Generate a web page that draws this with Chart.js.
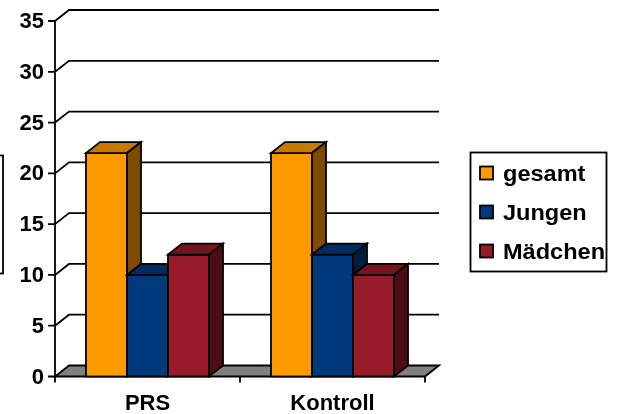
<!DOCTYPE html>
<html>
<head>
<meta charset="utf-8">
<script src="https://cdn.jsdelivr.net/npm/chart.js@4/dist/chart.umd.min.js"></script>
<style>
  html, body { margin: 0; padding: 0; background: #fff; }
  canvas { display: block; }
</style>
</head>
<body>
<canvas id="c" width="618" height="414"></canvas>
<script>
// Categories, series and axis ticks
const categories = ['PRS', 'Kontroll'];
const seriesNames = ['gesamt', 'Jungen', 'Mädchen'];
const gesamt = [22, 22];
const jungen = [10, 12];
const maedchen = [12, 10];
const yTicks = [0, 5, 10, 15, 20, 25, 30, 35];

// Face colours per series: front, top, side
const frontColors = ['#FF9900', '#003A7C', '#971B29'];
const topColors = ['#C97900', '#002B5E', '#731420'];
const sideColors = ['#7E4B00', '#001C40', '#4C0D15'];

// Depth offset of the 3-D box (back plane relative to front plane)
const DX = 14, DY = -11;
const LINE = 1.8;
const FONT = '"Liberation Sans", Arial, sans-serif';

function poly(ctx, pts, fill) {
  ctx.beginPath();
  ctx.moveTo(pts[0][0], pts[0][1]);
  for (let i = 1; i < pts.length; i++) ctx.lineTo(pts[i][0], pts[i][1]);
  ctx.closePath();
  if (fill) { ctx.fillStyle = fill; ctx.fill(); }
  ctx.stroke();
}

const depthPlugin = {
  id: 'depth3d',
  beforeDatasetsDraw(chart) {
    const { ctx, chartArea: a, scales: { x, y } } = chart;
    const p0 = y.getPixelForValue(0);
    ctx.save();
    ctx.lineWidth = LINE;
    ctx.strokeStyle = '#000';
    ctx.lineJoin = 'miter';

    // grid lines on the back wall, joined to the axis by a diagonal
    yTicks.forEach(v => {
      if (v === 0) return;
      const py = y.getPixelForValue(v);
      ctx.beginPath();
      ctx.moveTo(a.left, py);
      ctx.lineTo(a.left + DX, py + DY);
      ctx.lineTo(a.right + DX, py + DY);
      ctx.stroke();
    });

    // floor
    poly(ctx, [[a.left, p0], [a.right, p0], [a.right + DX, p0 + DY], [a.left + DX, p0 + DY]], '#808080');

    // value axis with tick marks
    ctx.beginPath();
    ctx.moveTo(a.left, y.getPixelForValue(yTicks[yTicks.length - 1]));
    ctx.lineTo(a.left, p0 + 6);
    yTicks.forEach(v => {
      const py = y.getPixelForValue(v);
      ctx.moveTo(a.left - 7, py);
      ctx.lineTo(a.left, py);
    });
    // category axis tick marks at category boundaries
    const half = (x.getPixelForValue(1) - x.getPixelForValue(0)) / 2;
    const bounds = [x.getPixelForValue(0) - half];
    categories.forEach((c, i) => bounds.push(x.getPixelForValue(i) + half));
    bounds.forEach(bx => {
      ctx.moveTo(bx, p0);
      ctx.lineTo(bx, p0 + 6);
    });
    ctx.stroke();
    ctx.restore();
  },
  beforeDatasetDraw() {
    // bars are painted together below, left to right, so faces overlap correctly
    return false;
  },
  afterDatasetsDraw(chart) {
    const ctx = chart.ctx;
    const bars = [];
    chart.data.datasets.forEach((ds, i) => {
      chart.getDatasetMeta(i).data.forEach(el => bars.push({ el, i }));
    });
    bars.sort((p, q) => p.el.x - q.el.x);
    ctx.save();
    ctx.lineWidth = LINE;
    ctx.strokeStyle = '#000';
    ctx.lineJoin = 'miter';
    bars.forEach(({ el, i }) => {
      const { x, y, base, width } = el.getProps(['x', 'y', 'base', 'width'], true);
      const L = x - width / 2, R = x + width / 2, T = y, B = base;
      el.draw(ctx);
      ctx.strokeRect(L, T, R - L, B - T);
      poly(ctx, [[L, T], [R, T], [R + DX, T + DY], [L + DX, T + DY]], topColors[i]);
      poly(ctx, [[R, T], [R + DX, T + DY], [R + DX, B + DY], [R, B]], sideColors[i]);
    });
    ctx.restore();
  },
  afterDraw(chart) {
    const { ctx, chartArea: a, scales: { x, y } } = chart;
    ctx.save();
    ctx.fillStyle = '#000';

    // value labels
    ctx.font = 'bold 22px ' + FONT;
    ctx.textAlign = 'right';
    ctx.textBaseline = 'alphabetic';
    yTicks.forEach(v => {
      ctx.fillText(String(v), a.left - 11, y.getPixelForValue(v) + 7);
    });

    // category labels
    ctx.textAlign = 'center';
    categories.forEach((c, i) => {
      ctx.fillText(c, x.getPixelForValue(i), 410);
    });

    // legend
    ctx.lineWidth = LINE;
    ctx.strokeStyle = '#000';
    ctx.fillStyle = '#fff';
    ctx.fillRect(470.5, 152.5, 136, 119);
    ctx.strokeRect(470.5, 152.5, 136, 119);
    ctx.font = 'bold 22px ' + FONT;
    ctx.textAlign = 'left';
    chart.data.datasets.forEach((ds, i) => {
      const cy = 173 + i * 39;
      ctx.fillStyle = ds.backgroundColor;
      ctx.fillRect(480, cy - 6.5, 13, 13);
      ctx.strokeRect(480, cy - 6.5, 13, 13);
      ctx.fillStyle = '#000';
      ctx.save();
      ctx.translate(503, cy + 8);
      ctx.scale(1.07, 1);
      ctx.fillText(ds.label, 0, 0);
      ctx.restore();
    });

    // frame of the axis-title box at the left edge
    ctx.strokeRect(-20, 155.5, 23, 118);
    ctx.restore();
  }
};

new Chart(document.getElementById('c'), {
  type: 'bar',
  data: {
    labels: categories,
    datasets: [gesamt, jungen, maedchen].map((values, i) => ({
      label: seriesNames[i],
      data: values,
      backgroundColor: frontColors[i],
      borderWidth: 0,
      categoryPercentage: 0.665,
      barPercentage: 1
    }))
  },
  options: {
    responsive: false,
    animation: false,
    events: [],
    layout: { padding: { left: 55, right: 193, top: 21, bottom: 37.5 } },
    scales: {
      x: { display: false, offset: true },
      y: { display: false, min: 0, max: 35 }
    },
    plugins: { legend: { display: false }, tooltip: { enabled: false } }
  },
  plugins: [depthPlugin]
});
</script>
</body>
</html>
